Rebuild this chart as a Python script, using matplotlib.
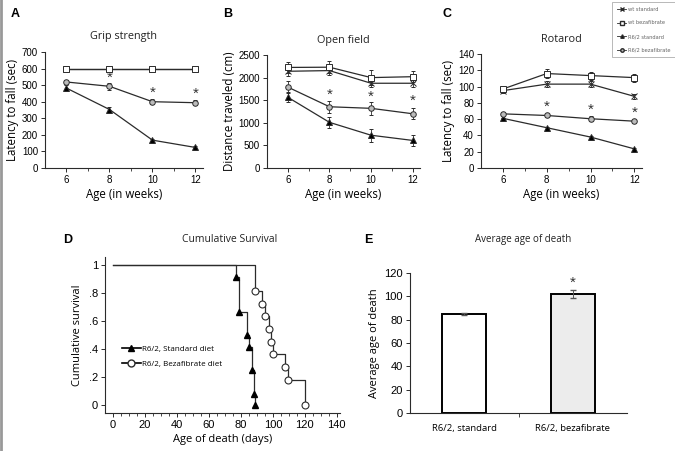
import matplotlib
matplotlib.use("Agg")
import matplotlib.pyplot as plt
import numpy as np
from matplotlib.lines import Line2D

weeks = [6, 8, 10, 12]

# A - grip strength (sec)
grip_wt_std = [600, 600, 600, 600]
grip_wt_bez = [600, 600, 600, 600]
grip_r62_std = [482, 353, 168, 124]
grip_r62_bez = [519, 493, 400, 394]
grip_err_std = [20, 15, 10, 6]
grip_err_bez = [10, 20, 15, 15]
grip_stars = [545, 455, 447]

# B - open field (cm)
open_wt_std = [2140, 2155, 1875, 1875]
open_wt_bez = [2225, 2230, 2000, 2020]
open_r62_std = [1565, 1010, 725, 610]
open_r62_bez = [1790, 1355, 1320, 1200]
open_err_wt_std = [100, 90, 90, 80]
open_err_wt_bez = [120, 130, 160, 120]
open_err_std = [110, 120, 140, 130]
open_err_bez = [140, 130, 140, 120]
open_stars = [1615, 1565, 1490]

# C - rotarod (sec)
rot_wt_std = [95, 103, 103, 88]
rot_wt_bez = [97, 116, 113.5, 111]
rot_r62_std = [61, 49.5, 38, 23.5]
rot_r62_bez = [66.5, 64.5, 60.5, 57.5]
rot_err_wt_std = [3, 4, 4, 3]
rot_err_wt_bez = [3, 6, 5, 5]
rot_err_std = [1, 1, 1, 1]
rot_err_bez = [2, 2, 3, 2]
rot_stars = [75, 71.5, 67.5]

# D - survival
surv_std_days = [77, 79, 84, 85, 87, 88, 89]
surv_std = [0.917, 0.667, 0.5, 0.417, 0.25, 0.083, 0.0]
surv_bez_days = [89, 93, 95, 97.5, 99, 100, 107.5, 109.5, 120]
surv_bez = [0.818, 0.727, 0.636, 0.545, 0.455, 0.364, 0.273, 0.182, 0.0]

# E - average age of death
groups = ["R6/2, standard", "R6/2, bezafibrate"]
avg_death = [85, 102]
avg_err = [1, 3.5]

LBL = "Open Sans"
TCK = "Liberation Sans"
LC = "#2b2b2b"

fig = plt.figure(figsize=(6.75, 4.51), dpi=100)


def px(l, t, r, b):
    return [l / 675, 1 - b / 451, (r - l) / 675, (b - t) / 451]


def style(ax, size=7):
    ax.spines["top"].set_visible(False)
    ax.spines["right"].set_visible(False)
    for s in ("left", "bottom"):
        ax.spines[s].set_color(LC)
        ax.spines[s].set_linewidth(0.8)
    ax.tick_params(direction="out", length=3, width=0.7, color=LC,
                   labelsize=size, pad=2)
    for lab in ax.get_xticklabels() + ax.get_yticklabels():
        lab.set_fontfamily(TCK)


def line_panel(ax, series, ymax, ystep, stars, title, ylabel):
    for y, err, mk, fc in series:
        ax.errorbar(weeks, y, yerr=err, color=LC, lw=0.9, elinewidth=0.6,
                    capsize=1.5, marker=mk, ms=4, mfc=fc, mec=LC, mew=0.7)
    for x, s in zip(weeks[1:], stars):
        ax.text(x, s, "*", ha="center", va="center", fontsize=11,
                fontfamily=TCK, color="#333333")
    ax.set_xlim(5, 12.35)
    ax.set_ylim(0, ymax)
    ax.set_xticks(weeks)
    ax.set_xticks([7, 9, 11], minor=True)
    ax.set_yticks(np.arange(0, ymax + 1, ystep))
    style(ax)
    ax.tick_params(which="minor", direction="out", length=2, color=LC)
    ax.set_title(title, fontsize=7.8, fontfamily=LBL, pad=9, color="#222222")
    ax.set_ylabel(ylabel, fontsize=8.3, fontfamily=LBL, labelpad=2)
    ax.set_xlabel("Age (in weeks)", fontsize=8.3, fontfamily=LBL, labelpad=2)


axA = fig.add_axes(px(45, 52, 203, 168))
line_panel(axA, [
    (grip_wt_std, 5, "x", LC),
    (grip_wt_bez, 5, "s", "white"),
    (grip_r62_std, grip_err_std, "^", "black"),
    (grip_r62_bez, grip_err_bez, "o", "#bbbbbb"),
], 700, 100, grip_stars, "Grip strength", "Latency to fall (sec)")

axB = fig.add_axes(px(267, 55, 420, 168))
line_panel(axB, [
    (open_wt_std, open_err_wt_std, "x", LC),
    (open_wt_bez, open_err_wt_bez, "s", "white"),
    (open_r62_std, open_err_std, "^", "black"),
    (open_r62_bez, open_err_bez, "o", "#bbbbbb"),
], 2500, 500, open_stars, "Open field", "Distance traveled (cm)")

axC = fig.add_axes(px(481, 54, 642, 168))
line_panel(axC, [
    (rot_wt_std, rot_err_wt_std, "x", LC),
    (rot_wt_bez, rot_err_wt_bez, "s", "white"),
    (rot_r62_std, rot_err_std, "^", "black"),
    (rot_r62_bez, rot_err_bez, "o", "#bbbbbb"),
], 140, 20, rot_stars, "Rotarod", "Latency to fall (sec)")

# legend for A-C, top right corner
handles = [
    Line2D([], [], color=LC, lw=0.6, marker="x", ms=2.5, mec=LC),
    Line2D([], [], color=LC, lw=0.6, marker="s", ms=2.5, mfc="white", mec=LC),
    Line2D([], [], color=LC, lw=0.6, marker="^", ms=2.5, mfc="black", mec=LC),
    Line2D([], [], color=LC, lw=0.6, marker="o", ms=2.5, mfc="#bbbbbb", mec=LC),
]
leg = fig.legend(handles, ["wt standard", "wt bezafibrate", "R6/2 standard",
                           "R6/2 bezafibrate"],
                 loc="upper left", bbox_to_anchor=(612 / 675, 1 - 2 / 451),
                 fontsize=3.7, frameon=True, fancybox=False, handlelength=1.9,
                 handletextpad=0.3, labelspacing=1.7, borderpad=0.9,
                 borderaxespad=0)
leg.get_frame().set_edgecolor("#999999")
leg.get_frame().set_linewidth(0.6)
for t in leg.get_texts():
    t.set_color("#666666")

# D - Kaplan-Meier
axD = fig.add_axes(px(105, 257, 340, 413))
xs = [0] + surv_std_days
ys = [1] + surv_std
axD.step(xs, ys, where="post", color=LC, lw=0.9)
axD.plot(surv_std_days, surv_std, "^", color="black", ms=5,
         label="R6/2, Standard diet")
xs = [0] + surv_bez_days
ys = [1] + surv_bez
axD.step(xs, ys, where="post", color=LC, lw=0.9)
axD.plot(surv_bez_days, surv_bez, "o", mfc="white", mec=LC, ms=5, mew=0.8,
         label="R6/2, Bezafibrate diet")
axD.set_xlim(-5, 142)
axD.set_ylim(-0.055, 1.06)
axD.set_xticks(np.arange(0, 141, 20))
axD.set_xticks(np.arange(0, 141, 5), minor=True)
axD.set_yticks([0, 0.2, 0.4, 0.6, 0.8, 1])
axD.set_yticklabels(["0", ".2", ".4", ".6", ".8", "1"])
style(axD, 8)
axD.tick_params(which="minor", direction="out", length=2, color=LC)
axD.set_xlabel("Age of death (days)", fontsize=8, fontfamily=LBL, labelpad=3)
axD.set_ylabel("Cumulative survival", fontsize=8, fontfamily=LBL, labelpad=4)
d_handles = [
    Line2D([], [], color="black", lw=1.2, marker="^", ms=5, mfc="black"),
    Line2D([], [], color="black", lw=1.2, marker="o", ms=5, mfc="white",
           mec=LC),
]
dleg = axD.legend(d_handles, ["R6/2, Standard diet", "R6/2, Bezafibrate diet"],
                  loc="center left", bbox_to_anchor=(0.04, 0.36),
                  frameon=False, fontsize=5.8, handlelength=2.4,
                  handletextpad=0.1, labelspacing=0.9)
for t in dleg.get_texts():
    t.set_fontfamily(LBL)
fig.text(230 / 675, 1 - 240 / 451, "Cumulative Survival", ha="center",
         va="center", fontsize=7.5, fontfamily=LBL, color="#222222")

# E - bars
axE = fig.add_axes(px(410, 273, 627, 413))
xpos = np.arange(len(groups))
axE.bar(xpos, avg_death, width=0.41, color=["white", "#ececec"],
        edgecolor="black", linewidth=1.4)
axE.errorbar(xpos, avg_death, yerr=avg_err, fmt="none", ecolor="#555555",
             elinewidth=0.7, capsize=2.5)
axE.text(xpos[1], avg_death[1] + avg_err[1] + 6, "*", ha="center",
         va="center", fontsize=11, fontfamily=TCK, color="#333333")
axE.set_xlim(-0.5, 1.5)
axE.set_ylim(0, 120)
axE.set_yticks(np.arange(0, 121, 20))
axE.set_xticks(xpos)
axE.set_xticklabels(groups)
axE.set_xticks([0.5], minor=True)
style(axE, 8)
axE.tick_params(axis="x", which="major", length=0, pad=8, labelsize=6.8)
axE.tick_params(axis="x", which="minor", direction="out", length=3, color=LC)
for lab in axE.get_xticklabels():
    lab.set_fontfamily(LBL)
axE.set_ylabel("Average age of death", fontsize=8, fontfamily=LBL,
               labelpad=3)
fig.text(523 / 675, 1 - 240 / 451, "Average age of death", ha="center",
         va="center", fontsize=7, fontfamily=LBL, color="#222222")

# panel letters
for lbl, x, y in [("A", 15, 14), ("B", 228, 14), ("C", 447, 14),
                  ("D", 68, 240), ("E", 368, 240)]:
    fig.text(x / 675, 1 - y / 451, lbl, ha="center", va="center",
             fontsize=9, fontweight="bold", fontfamily=TCK)

# grey border on the left edge of the scan
fig.add_artist(Line2D([0.002, 0.002], [0, 1], color="#999999", lw=2,
                      transform=fig.transFigure))

fig.savefig("out.png", dpi=100)
